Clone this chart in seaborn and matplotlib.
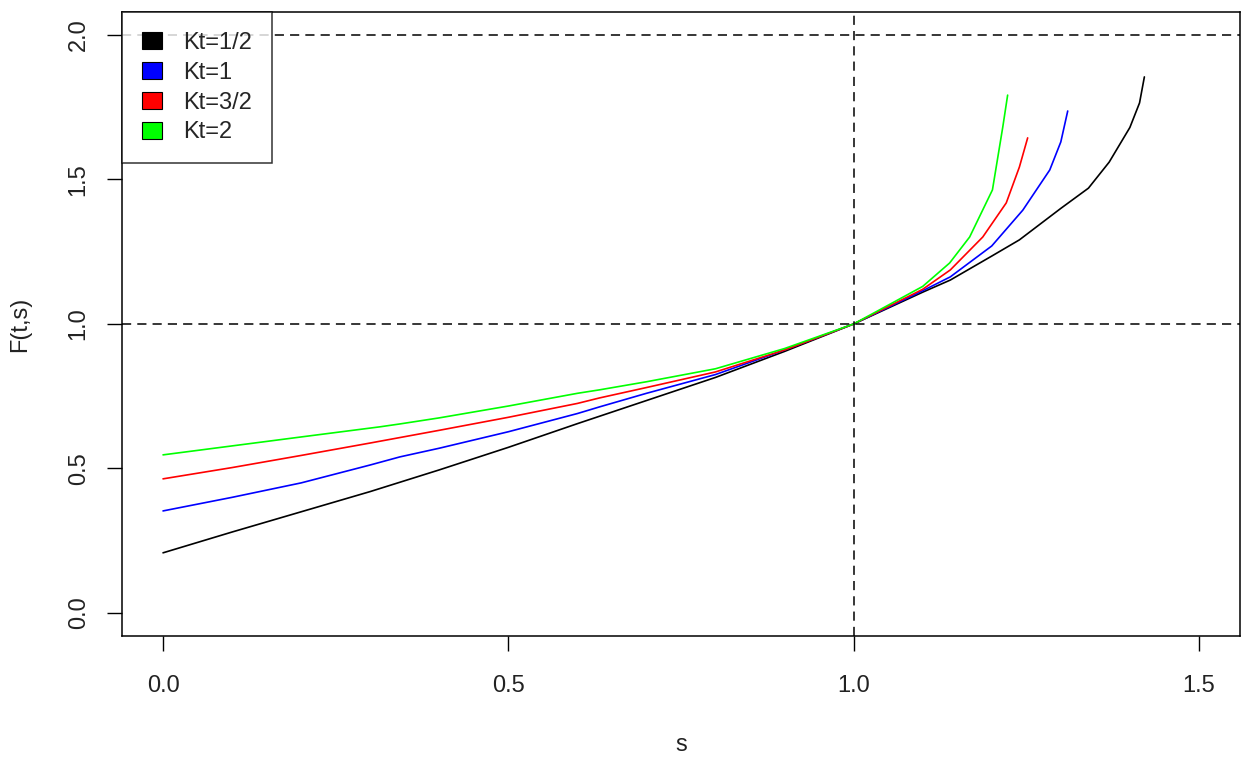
import pandas as pd
import numpy as np
import matplotlib
matplotlib.use("Agg")
import matplotlib.pyplot as plt
from matplotlib.patches import Patch
import seaborn as sns

# values
labels = ["Kt=1/2", "Kt=1", "Kt=3/2", "Kt=2"]
colors = ["black", "blue", "red", "#00ff00"]

s_half = [0, 0.1, 0.2, 0.3, 0.4, 0.5, 0.6, 0.7, 0.8, 0.9, 1.0, 1.1, 1.14, 1.2, 1.24, 1.3, 1.34, 1.37, 1.4, 1.414, 1.421]
f_half = [0.208, 0.28, 0.35, 0.42, 0.495, 0.573, 0.655, 0.735, 0.815, 0.905, 1.0, 1.11, 1.152, 1.235, 1.291, 1.40, 1.47, 1.56, 1.68, 1.765, 1.855]

s_one = [0, 0.1, 0.2, 0.3, 0.343, 0.4, 0.5, 0.6, 0.632, 0.7, 0.8, 0.9, 1.0, 1.1, 1.14, 1.2, 1.245, 1.284, 1.30, 1.31]
f_one = [0.353, 0.40, 0.45, 0.512, 0.540, 0.57, 0.627, 0.69, 0.713, 0.76, 0.825, 0.91, 1.0, 1.115, 1.163, 1.27, 1.394, 1.533, 1.63, 1.737]

s_three_half = [0, 0.1, 0.2, 0.3, 0.4, 0.5, 0.6, 0.632, 0.7, 0.8, 0.9, 1.0, 1.1, 1.14, 1.187, 1.221, 1.24, 1.252]
f_three_half = [0.464, 0.503, 0.545, 0.588, 0.632, 0.677, 0.725, 0.744, 0.78, 0.834, 0.91, 1.0, 1.12, 1.187, 1.301, 1.419, 1.543, 1.644]

s_two = [0, 0.1, 0.2, 0.314, 0.343, 0.4, 0.5, 0.6, 0.632, 0.7, 0.8, 0.9, 1.0, 1.1, 1.139, 1.168, 1.201, 1.216, 1.223]
f_two = [0.547, 0.578, 0.609, 0.644, 0.654, 0.675, 0.716, 0.76, 0.772, 0.80, 0.845, 0.915, 1.0, 1.13, 1.211, 1.301, 1.464, 1.682, 1.792]

x_ticks = [0.0, 0.5, 1.0, 1.5]
y_ticks = [0.0, 0.5, 1.0, 1.5, 2.0]

frames = []
for lab, s, f in zip(labels, [s_half, s_one, s_three_half, s_two], [f_half, f_one, f_three_half, f_two]):
    frames.append(pd.DataFrame({"s": s, "F": f, "Kt": lab}))
df = pd.concat(frames, ignore_index=True)

sns.set_style("white")
plt.rcParams['font.family'] = ['Liberation Sans', 'DejaVu Sans']

fig = plt.figure(figsize=(12.51, 7.58), dpi=100)
ax = fig.add_axes([0.0972, 0.1609, 0.8943, 0.8234])

sns.lineplot(data=df, x="s", y="F", hue="Kt", palette=colors, sort=False,
             linewidth=1.2, legend=False, ax=ax)

# reference lines
ax.axhline(1.0, color="black", linestyle=(0, (6, 4)), linewidth=1.1)
ax.axhline(2.0, color="black", linestyle=(0, (6, 4)), linewidth=1.1)
ax.axvline(1.0, color="black", linestyle=(0, (6, 4)), linewidth=1.1)

ax.set_xlim(-0.06, 1.56)
ax.set_ylim(-0.08, 2.08)
ax.set_xticks(x_ticks)
ax.set_xticklabels([f"{v:.1f}" for v in x_ticks])
ax.set_yticks(y_ticks)
ax.set_yticklabels([f"{v:.1f}" for v in y_ticks], rotation=90, va="center")
ax.tick_params(axis="both", direction="out", length=11, width=1, color="black",
               labelsize=17, labelcolor="#222222", bottom=True, left=True)
ax.tick_params(axis="x", pad=17)
ax.tick_params(axis="y", pad=12)

for sp in ax.spines.values():
    sp.set_color("black")
    sp.set_linewidth(1.1)

ax.set_xlabel("s", fontsize=17, color="#222222", labelpad=27)
ax.set_ylabel("F(t,s)", fontsize=17, color="#222222", labelpad=26)

handles = [Patch(facecolor=c, edgecolor="black", linewidth=0.8) for c in colors]
leg = ax.legend(handles, labels, loc="upper left", borderaxespad=0, fancybox=False,
                frameon=True, fontsize=17, handlelength=0.85, handleheight=0.72,
                handletextpad=0.9, borderpad=0.85, labelspacing=0.33)
leg.get_frame().set_edgecolor("black")
leg.get_frame().set_linewidth(1.1)

fig.savefig("out.png", dpi=100)
